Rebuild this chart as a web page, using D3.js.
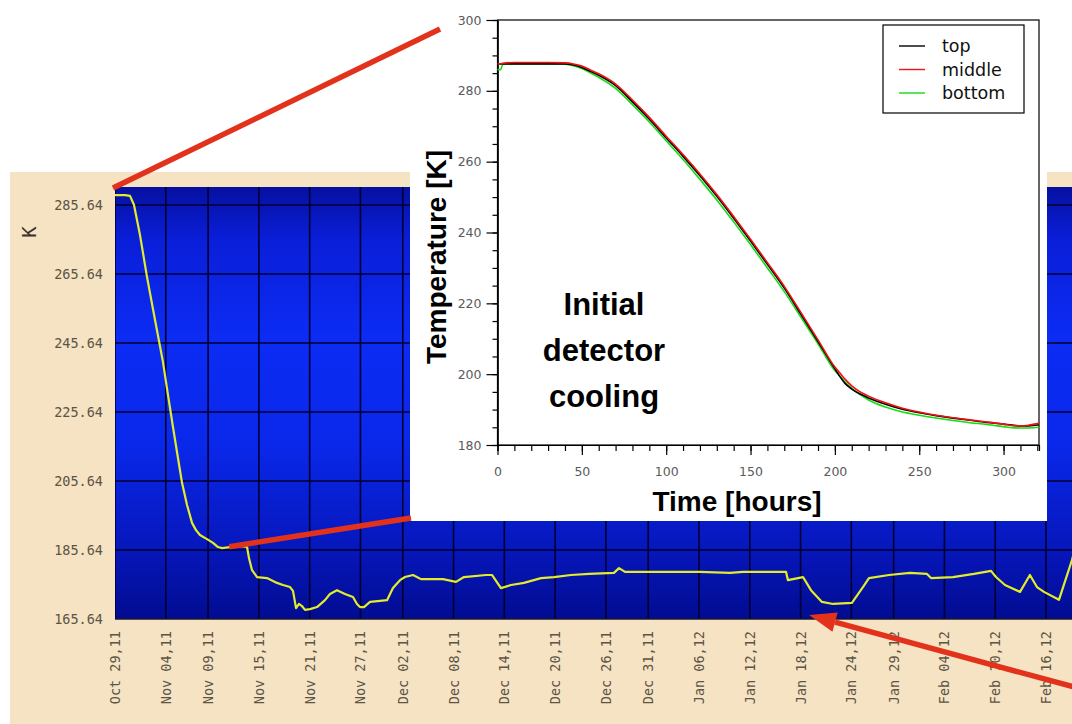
<!DOCTYPE html>
<html>
<head>
<meta charset="utf-8">
<script src="https://cdn.jsdelivr.net/npm/d3@7"></script>
<style>
  html, body { margin: 0; padding: 0; background: #fff; }
  svg { display: block; }
</style>
</head>
<body>
<div id="chart"></div>
<script>
// --- background: detector temperature log, Oct 2011 - Feb 2012 ---
const dateTicks = ["2011-10-29", "2011-11-04", "2011-11-09", "2011-11-15", "2011-11-21",
  "2011-11-27", "2011-12-02", "2011-12-08", "2011-12-14", "2011-12-20", "2011-12-26",
  "2011-12-31", "2012-01-06", "2012-01-12", "2012-01-18", "2012-01-24", "2012-01-29",
  "2012-02-04", "2012-02-10", "2012-02-16"];
const kTicks = [165.64, 185.64, 205.64, 225.64, 245.64, 265.64, 285.64];

// days since Oct 29 2011 and temperature [K]
const logDays = [0, 1.18, 1.77, 2.24, 2.95, 3.78, 4.73, 5.67, 6.26, 6.85, 7.44, 7.92, 8.51,
  9.10, 9.57, 10.04, 10.87, 11.58, 12.17, 12.64, 13.59, 14.77, 15.60, 15.83, 16.19, 16.78,
  17.96, 19.14, 19.85, 20.68, 21.03, 21.39, 21.74, 22.09, 22.45, 23.04, 23.87, 24.81, 25.40,
  26.23, 27.17, 28.12, 28.59, 28.95, 29.42, 30.13, 31.31, 32.14, 32.84, 33.67, 34.26, 35.21,
  36.15, 38.75, 40.29, 41.23, 43.83, 44.54, 45.60, 46.79, 48.32, 50.33, 51.87, 53.88, 56.00,
  58.95, 59.55, 60.26, 64.04, 69.12, 72.66, 74.20, 79.28, 79.51, 81.29, 82.23, 83.53, 84.83,
  87.07, 88.37, 89.08, 91.45, 93.93, 95.94, 96.41, 99.01, 101.49, 103.50, 104.09, 105.15,
  106.93, 108.10, 108.93, 109.76, 111.53, 113.07, 114.01];
const logTemps = [288.5, 288.5, 288.3, 285.7, 277.0, 264.8, 252.3, 240.1, 230.6, 221.3, 212.3,
  205.1, 198.7, 193.5, 191.4, 190.0, 188.8, 187.7, 186.5, 186.2, 186.5, 186.8, 186.5, 183.3,
  179.8, 177.8, 177.5, 176.1, 175.5, 174.9, 173.8, 168.8, 170.0, 169.4, 168.3, 168.5, 169.1,
  171.1, 172.9, 174.0, 172.9, 172.0, 170.0, 169.1, 169.1, 170.6, 170.9, 171.1, 174.6, 176.9,
  177.8, 178.4, 177.2, 177.2, 176.4, 177.8, 178.4, 178.4, 174.6, 175.5, 176.1, 177.5, 177.8,
  178.4, 178.7, 179.0, 180.4, 179.3, 179.3, 179.3, 179.0, 179.3, 179.3, 176.9, 177.8, 174.0,
  170.6, 170.0, 170.3, 174.9, 177.5, 178.4, 179.0, 178.7, 177.5, 177.8, 178.7, 179.6, 177.8,
  175.5, 173.5, 178.4, 174.9, 173.5, 171.2, 182.7, 191.4];

// --- inset: initial detector cooling ---
const hours = [0, 2, 3, 10, 20, 30, 40, 45, 50, 55, 60, 70, 80, 90, 100, 110, 120, 130, 140,
  150, 160, 170, 180, 190, 200, 203, 206, 210, 215, 220, 230, 240, 250, 260, 270, 280, 290,
  300, 305, 310, 315, 321];
const tempTop = [287.6, 287.6, 287.6, 287.6, 287.6, 287.6, 287.6, 287.3, 286.6, 285.5, 284.4,
  281.5, 276.9, 272.0, 266.7, 261.5, 256.0, 250.2, 244.0, 237.6, 231.0, 224.3, 216.8, 209.2,
  201.5, 199.3, 197.4, 195.8, 194.4, 193.3, 191.5, 190.1, 189.1, 188.3, 187.6, 187.0, 186.4,
  185.9, 185.6, 185.4, 185.4, 185.7];
const tempMiddle = [287.6, 287.6, 287.8, 288.0, 288.0, 288.0, 287.9, 287.6, 287.0, 285.9, 284.8,
  281.9, 277.4, 272.5, 267.2, 262.0, 256.5, 250.7, 244.5, 238.1, 231.5, 224.8, 217.3, 209.7,
  202.0, 200.3, 198.6, 196.7, 195.0, 193.8, 191.9, 190.4, 189.3, 188.4, 187.7, 187.1, 186.5,
  185.9, 185.5, 185.4, 185.6, 186.1];
const tempBottom = [286.0, 286.0, 287.5, 287.6, 287.6, 287.6, 287.5, 287.1, 286.3, 285.1, 283.8,
  280.7, 276.1, 271.2, 265.9, 260.6, 255.0, 249.2, 243.0, 236.6, 230.0, 223.3, 216.0, 208.6,
  201.0, 199.5, 197.8, 196.0, 194.2, 192.7, 190.7, 189.3, 188.4, 187.6, 186.9, 186.3, 185.8,
  185.2, 184.9, 184.8, 184.8, 185.0];
const hourTicks = [0, 50, 100, 150, 200, 250, 300];
const tempTicks = [180, 200, 220, 240, 260, 280, 300];
const seriesNames = ["top", "middle", "bottom"];
const seriesColors = ["#000000", "#ee1111", "#11dd11"];
const noteLines = ["Initial", "detector", "cooling"];

const W = 1072, H = 724;
const red = "#e3321b";

const svg = d3.select("#chart").append("svg")
  .attr("width", W).attr("height", H)
  .attr("viewBox", `0 0 ${W} ${H}`);

const defs = svg.append("defs");
const grad = defs.append("linearGradient")
  .attr("id", "blueGrad").attr("x1", 0).attr("y1", 0).attr("x2", 0).attr("y2", 1);
[[0, "#0610a0"], [0.12, "#0a1ed8"], [0.35, "#0c2cf4"], [0.6, "#0a28ea"], [0.85, "#0616b8"], [1, "#020c90"]]
  .forEach(([o, c]) => grad.append("stop").attr("offset", o).attr("stop-color", c));

// ---------- background log chart ----------
const day0 = Date.UTC(2011, 9, 29);
const parseDay = d3.utcParse("%Y-%m-%d");
const tickDates = dateTicks.map(parseDay);
const plot = { left: 115, right: 1080, top: 187, bottom: 619 };

const bgX = d3.scaleUtc()
  .domain([new Date(day0), parseDay("2012-02-16")])
  .range([plot.left, 1046]);
const bgY = d3.scaleLinear().domain([165.64, 290.86]).range([plot.bottom, plot.top]);

svg.append("rect") // beige panel
  .attr("x", 10).attr("y", 172).attr("width", W).attr("height", H - 172)
  .attr("fill", "#f5e3c3");

defs.append("clipPath").attr("id", "plotClip").append("rect")
  .attr("x", plot.left).attr("y", plot.top)
  .attr("width", plot.right - plot.left).attr("height", plot.bottom - plot.top);

const bg = svg.append("g").attr("clip-path", "url(#plotClip)");
bg.append("rect")
  .attr("x", plot.left).attr("y", plot.top)
  .attr("width", plot.right - plot.left).attr("height", plot.bottom - plot.top)
  .attr("fill", "url(#blueGrad)");

// grid
bg.selectAll(".hgrid").data(kTicks).join("line")
  .attr("x1", plot.left).attr("x2", plot.right)
  .attr("y1", d => bgY(d)).attr("y2", d => bgY(d))
  .attr("stroke", "#00002e").attr("stroke-width", 1.6);
bg.selectAll(".vgrid").data(tickDates).join("line")
  .attr("x1", d => bgX(d)).attr("x2", d => bgX(d))
  .attr("y1", plot.top).attr("y2", plot.bottom)
  .attr("stroke", "#00002e").attr("stroke-width", 1.6);

const logData = logDays.map((d, i) => ({ date: new Date(day0 + d * 864e5), k: logTemps[i] }));
bg.append("path")
  .datum(logData)
  .attr("fill", "none")
  .attr("stroke", "#e2ec2a")
  .attr("stroke-width", 2.2)
  .attr("stroke-linejoin", "round")
  .attr("d", d3.line().x(d => bgX(d.date)).y(d => bgY(d.k)));

svg.append("line") // plot bottom edge
  .attr("x1", plot.left).attr("x2", W).attr("y1", plot.bottom).attr("y2", plot.bottom)
  .attr("stroke", "#1a1a40").attr("stroke-width", 1.5);

// axis labels
const monoFont = "'DejaVu Sans Mono', monospace";
svg.append("g")
  .selectAll("text").data(kTicks).join("text")
  .attr("x", 103).attr("y", d => bgY(d) + 5)
  .attr("text-anchor", "end")
  .style("font-family", monoFont).style("font-size", "13.5px")
  .style("fill", "#5c5446")
  .text(d => d3.format(".2f")(d));

svg.append("g")
  .selectAll("text").data(tickDates).join("text")
  .attr("transform", d => `translate(${bgX(d) + 5},631) rotate(-90)`)
  .attr("text-anchor", "end")
  .style("font-family", monoFont).style("font-size", "13.5px")
  .style("fill", "#5c5446")
  .text(d => d3.utcFormat("%b %d,%y")(d));

svg.append("text")
  .attr("transform", "translate(36,232) rotate(-90)")
  .attr("text-anchor", "middle")
  .style("font-family", monoFont).style("font-size", "19px")
  .style("fill", "#3a3428")
  .text("K");

// ---------- inset ----------
svg.append("rect")
  .attr("x", 410).attr("y", 0).attr("width", 637).attr("height", 521)
  .attr("fill", "#ffffff");

const inX = d3.scaleLinear().domain([0, 321]).range([497.5, 1039]);
const inY = d3.scaleLinear().domain([180, 300]).range([445, 20]);
const inset = svg.append("g");
const tickFont = "'DejaVu Sans', sans-serif";

// minor ticks
inset.append("g").attr("transform", "translate(0,445)")
  .call(d3.axisBottom(inX).tickValues(d3.range(0, 321, 10)).tickSize(6).tickFormat(""));
inset.append("g").attr("transform", "translate(497.5,0)")
  .call(d3.axisLeft(inY).tickValues(d3.range(180, 301, 5)).tickSize(5).tickFormat(""));
// major ticks + labels
inset.append("g").attr("transform", "translate(0,445)")
  .call(d3.axisBottom(inX).tickValues(hourTicks).tickSize(10).tickSizeOuter(0).tickPadding(12));
inset.append("g").attr("transform", "translate(497.5,0)")
  .call(d3.axisLeft(inY).tickValues(tempTicks).tickSize(11).tickSizeOuter(0).tickPadding(5));

inset.selectAll(".tick line").attr("stroke", "#000").attr("stroke-width", 1.2);
inset.selectAll(".domain").attr("stroke", "#000").attr("stroke-width", 1.2);
inset.selectAll(".tick text")
  .style("font-family", tickFont).style("font-size", "12.5px").style("fill", "#5a5a5a");

// frame
inset.append("rect")
  .attr("x", inX(0)).attr("y", inY(300))
  .attr("width", inX(321) - inX(0)).attr("height", inY(180) - inY(300))
  .attr("fill", "none").attr("stroke", "#000").attr("stroke-width", 1.2);

const inLine = d3.line().curve(d3.curveMonotoneX).x(d => inX(d.h)).y(d => inY(d.t));
const seriesVals = [tempTop, tempMiddle, tempBottom];
// draw bottom first, middle last so red sits on top
[2, 0, 1].forEach(s => {
  inset.append("path")
    .datum(hours.map((h, i) => ({ h, t: seriesVals[s][i] })))
    .attr("fill", "none")
    .attr("stroke", seriesColors[s])
    .attr("stroke-width", 1.6)
    .attr("d", inLine);
});

// legend
const leg = inset.append("g").attr("transform", "translate(883,25)");
leg.append("rect").attr("width", 141).attr("height", 88)
  .attr("fill", "#fff").attr("stroke", "#000").attr("stroke-width", 1.2);
const items = leg.selectAll("g").data(seriesNames).join("g")
  .attr("transform", (d, i) => `translate(0,${21 + i * 23.5})`);
items.append("line").attr("x1", 16).attr("x2", 42)
  .attr("stroke", (d, i) => seriesColors[i]).attr("stroke-width", 1.4);
items.append("text").attr("x", 59).attr("y", 6)
  .style("font-family", tickFont).style("font-size", "17.5px").style("fill", "#111")
  .text(d => d);

// titles
const boldFont = "'Liberation Sans', Arial, sans-serif";
inset.append("text")
  .attr("transform", "translate(446,257) rotate(-90)")
  .attr("text-anchor", "middle")
  .style("font-family", boldFont).style("font-weight", "bold").style("font-size", "28px")
  .text("Temperature [K]");
inset.append("text")
  .attr("x", 737).attr("y", 511)
  .attr("text-anchor", "middle")
  .style("font-family", boldFont).style("font-weight", "bold").style("font-size", "28px")
  .text("Time [hours]");
inset.append("g").selectAll("text").data(noteLines).join("text")
  .attr("x", 604).attr("y", (d, i) => 315 + i * 46)
  .attr("text-anchor", "middle")
  .style("font-family", boldFont).style("font-weight", "bold").style("font-size", "31px")
  .text(d => d);

// ---------- red annotations ----------
const ann = svg.append("g").attr("stroke", red).attr("stroke-width", 5.5).attr("fill", "none");
ann.append("line")
  .attr("x1", bgX(new Date(day0)) - 2).attr("y1", plot.top + 1)
  .attr("x2", 440).attr("y2", 29);
ann.append("line")
  .attr("x1", bgX(new Date(day0 + 13.5 * 864e5))).attr("y1", bgY(186.6))
  .attr("x2", 411).attr("y2", 518);

// arrow to the Jan 18 dip
const tip = [bgX(new Date(day0 + 82 * 864e5)), 615];
const tail = [1085, 690];
const ang = Math.atan2(tail[1] - tip[1], tail[0] - tip[0]);
const headLen = 27, headW = 10;
const base = [tip[0] + headLen * Math.cos(ang), tip[1] + headLen * Math.sin(ang)];
ann.append("line")
  .attr("x1", base[0]).attr("y1", base[1]).attr("x2", tail[0]).attr("y2", tail[1]);
svg.append("path")
  .attr("fill", red)
  .attr("d", d3.line()([
    tip,
    [base[0] - headW * Math.sin(ang), base[1] + headW * Math.cos(ang)],
    [base[0] + headW * Math.sin(ang), base[1] - headW * Math.cos(ang)]
  ]));
</script>
</body>
</html>
